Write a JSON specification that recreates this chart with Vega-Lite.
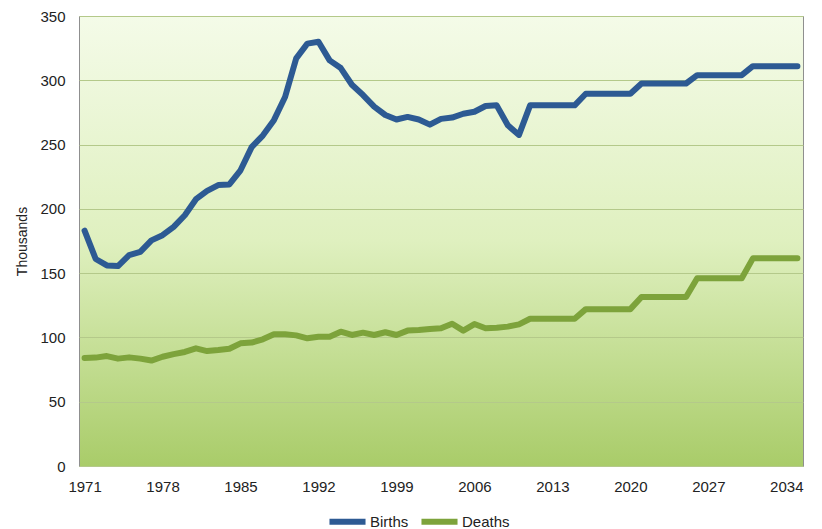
{
  "$schema": "https://vega.github.io/schema/vega-lite/v6.json",
  "width": 724,
  "height": 450,
  "autosize": {"type": "none"},
  "padding": {"left": 79, "top": 16, "right": 19, "bottom": 63},
  "background": "#ffffff",
  "config": {
    "font": "Liberation Sans, sans-serif",
    "view": {
      "stroke": "#8f8f8f",
      "strokeWidth": 1,
      "fill": {
        "gradient": "linear",
        "x1": 0, "y1": 0, "x2": 0, "y2": 1,
        "stops": [
          {"offset": 0, "color": "#f4fbe8"},
          {"offset": 0.5, "color": "#dff0bf"},
          {"offset": 1, "color": "#a9cc69"}
        ]
      }
    }
  },
  "data": {
    "values": [
      {"year": 1971, "series": "Births", "value": 183},
      {"year": 1972, "series": "Births", "value": 161},
      {"year": 1973, "series": "Births", "value": 156},
      {"year": 1974, "series": "Births", "value": 155.5},
      {"year": 1975, "series": "Births", "value": 164},
      {"year": 1976, "series": "Births", "value": 166.5},
      {"year": 1977, "series": "Births", "value": 175.5},
      {"year": 1978, "series": "Births", "value": 179.5},
      {"year": 1979, "series": "Births", "value": 186},
      {"year": 1980, "series": "Births", "value": 195},
      {"year": 1981, "series": "Births", "value": 207.5},
      {"year": 1982, "series": "Births", "value": 214},
      {"year": 1983, "series": "Births", "value": 218.5},
      {"year": 1984, "series": "Births", "value": 219},
      {"year": 1985, "series": "Births", "value": 230},
      {"year": 1986, "series": "Births", "value": 248},
      {"year": 1987, "series": "Births", "value": 257},
      {"year": 1988, "series": "Births", "value": 269},
      {"year": 1989, "series": "Births", "value": 287},
      {"year": 1990, "series": "Births", "value": 317},
      {"year": 1991, "series": "Births", "value": 328.5},
      {"year": 1992, "series": "Births", "value": 330},
      {"year": 1993, "series": "Births", "value": 315.5},
      {"year": 1994, "series": "Births", "value": 309.5},
      {"year": 1995, "series": "Births", "value": 296.5},
      {"year": 1996, "series": "Births", "value": 288.5},
      {"year": 1997, "series": "Births", "value": 279.5},
      {"year": 1998, "series": "Births", "value": 273},
      {"year": 1999, "series": "Births", "value": 269.5},
      {"year": 2000, "series": "Births", "value": 271.5},
      {"year": 2001, "series": "Births", "value": 269.5},
      {"year": 2002, "series": "Births", "value": 265.5},
      {"year": 2003, "series": "Births", "value": 270},
      {"year": 2004, "series": "Births", "value": 271},
      {"year": 2005, "series": "Births", "value": 274},
      {"year": 2006, "series": "Births", "value": 275.5},
      {"year": 2007, "series": "Births", "value": 280},
      {"year": 2008, "series": "Births", "value": 280.5},
      {"year": 2009, "series": "Births", "value": 265},
      {"year": 2010, "series": "Births", "value": 257.5},
      {"year": 2011, "series": "Births", "value": 280.5},
      {"year": 2012, "series": "Births", "value": 280.5},
      {"year": 2013, "series": "Births", "value": 280.5},
      {"year": 2014, "series": "Births", "value": 280.5},
      {"year": 2015, "series": "Births", "value": 280.5},
      {"year": 2016, "series": "Births", "value": 289.5},
      {"year": 2017, "series": "Births", "value": 289.5},
      {"year": 2018, "series": "Births", "value": 289.5},
      {"year": 2019, "series": "Births", "value": 289.5},
      {"year": 2020, "series": "Births", "value": 289.5},
      {"year": 2021, "series": "Births", "value": 297.5},
      {"year": 2022, "series": "Births", "value": 297.5},
      {"year": 2023, "series": "Births", "value": 297.5},
      {"year": 2024, "series": "Births", "value": 297.5},
      {"year": 2025, "series": "Births", "value": 297.5},
      {"year": 2026, "series": "Births", "value": 304},
      {"year": 2027, "series": "Births", "value": 304},
      {"year": 2028, "series": "Births", "value": 304},
      {"year": 2029, "series": "Births", "value": 304},
      {"year": 2030, "series": "Births", "value": 304},
      {"year": 2031, "series": "Births", "value": 311},
      {"year": 2032, "series": "Births", "value": 311},
      {"year": 2033, "series": "Births", "value": 311},
      {"year": 2034, "series": "Births", "value": 311},
      {"year": 2035, "series": "Births", "value": 311},
      {"year": 1971, "series": "Deaths", "value": 84},
      {"year": 1972, "series": "Deaths", "value": 84.3},
      {"year": 1973, "series": "Deaths", "value": 85.5},
      {"year": 1974, "series": "Deaths", "value": 83.5},
      {"year": 1975, "series": "Deaths", "value": 84.5},
      {"year": 1976, "series": "Deaths", "value": 83.5},
      {"year": 1977, "series": "Deaths", "value": 82},
      {"year": 1978, "series": "Deaths", "value": 85},
      {"year": 1979, "series": "Deaths", "value": 87},
      {"year": 1980, "series": "Deaths", "value": 88.7},
      {"year": 1981, "series": "Deaths", "value": 91.5},
      {"year": 1982, "series": "Deaths", "value": 89.4},
      {"year": 1983, "series": "Deaths", "value": 90.2},
      {"year": 1984, "series": "Deaths", "value": 91.2},
      {"year": 1985, "series": "Deaths", "value": 95.4},
      {"year": 1986, "series": "Deaths", "value": 96},
      {"year": 1987, "series": "Deaths", "value": 98.5},
      {"year": 1988, "series": "Deaths", "value": 102.4},
      {"year": 1989, "series": "Deaths", "value": 102.4},
      {"year": 1990, "series": "Deaths", "value": 101.6},
      {"year": 1991, "series": "Deaths", "value": 99.3},
      {"year": 1992, "series": "Deaths", "value": 100.5},
      {"year": 1993, "series": "Deaths", "value": 100.6},
      {"year": 1994, "series": "Deaths", "value": 104.5},
      {"year": 1995, "series": "Deaths", "value": 101.9},
      {"year": 1996, "series": "Deaths", "value": 103.7},
      {"year": 1997, "series": "Deaths", "value": 101.9},
      {"year": 1998, "series": "Deaths", "value": 104},
      {"year": 1999, "series": "Deaths", "value": 101.9},
      {"year": 2000, "series": "Deaths", "value": 105.3},
      {"year": 2001, "series": "Deaths", "value": 105.8},
      {"year": 2002, "series": "Deaths", "value": 106.6},
      {"year": 2003, "series": "Deaths", "value": 107.1},
      {"year": 2004, "series": "Deaths", "value": 110.7},
      {"year": 2005, "series": "Deaths", "value": 105.3},
      {"year": 2006, "series": "Deaths", "value": 110.4},
      {"year": 2007, "series": "Deaths", "value": 107.1},
      {"year": 2008, "series": "Deaths", "value": 107.6},
      {"year": 2009, "series": "Deaths", "value": 108.4},
      {"year": 2010, "series": "Deaths", "value": 110.2},
      {"year": 2011, "series": "Deaths", "value": 114.5},
      {"year": 2012, "series": "Deaths", "value": 114.5},
      {"year": 2013, "series": "Deaths", "value": 114.5},
      {"year": 2014, "series": "Deaths", "value": 114.5},
      {"year": 2015, "series": "Deaths", "value": 114.5},
      {"year": 2016, "series": "Deaths", "value": 122},
      {"year": 2017, "series": "Deaths", "value": 122},
      {"year": 2018, "series": "Deaths", "value": 122},
      {"year": 2019, "series": "Deaths", "value": 122},
      {"year": 2020, "series": "Deaths", "value": 122},
      {"year": 2021, "series": "Deaths", "value": 131.5},
      {"year": 2022, "series": "Deaths", "value": 131.5},
      {"year": 2023, "series": "Deaths", "value": 131.5},
      {"year": 2024, "series": "Deaths", "value": 131.5},
      {"year": 2025, "series": "Deaths", "value": 131.5},
      {"year": 2026, "series": "Deaths", "value": 146},
      {"year": 2027, "series": "Deaths", "value": 146},
      {"year": 2028, "series": "Deaths", "value": 146},
      {"year": 2029, "series": "Deaths", "value": 146},
      {"year": 2030, "series": "Deaths", "value": 146},
      {"year": 2031, "series": "Deaths", "value": 161.5},
      {"year": 2032, "series": "Deaths", "value": 161.5},
      {"year": 2033, "series": "Deaths", "value": 161.5},
      {"year": 2034, "series": "Deaths", "value": 161.5},
      {"year": 2035, "series": "Deaths", "value": 161.5}
    ]
  },
  "mark": {"type": "line", "strokeWidth": 6, "strokeCap": "round", "strokeJoin": "round"},
  "encoding": {
    "x": {
      "field": "year",
      "type": "quantitative",
      "scale": {"domain": [1970.5, 2035.5], "nice": false, "zero": false},
      "axis": {
        "title": null,
        "values": [1971, 1978, 1985, 1992, 1999, 2006, 2013, 2020, 2027, 2034],
        "format": "d",
        "grid": false,
        "ticks": false,
        "domain": false,
        "labelFontSize": 15,
        "labelColor": "#222222",
        "labelPadding": 13
      }
    },
    "y": {
      "field": "value",
      "type": "quantitative",
      "scale": {"domain": [0, 350], "nice": false},
      "axis": {
        "title": "Thousands",
        "titleFontSize": 14,
        "titleFontWeight": "normal",
        "titleColor": "#222222",
        "titlePadding": 10,
        "values": [0, 50, 100, 150, 200, 250, 300, 350],
        "grid": true,
        "gridColor": "#b4c98a",
        "gridWidth": 1.2,
        "ticks": false,
        "domain": false,
        "labelFontSize": 15,
        "labelColor": "#222222",
        "labelPadding": 14
      }
    },
    "color": {
      "field": "series",
      "type": "nominal",
      "scale": {"domain": ["Births", "Deaths"], "range": ["#2d5a93", "#7da33b"]},
      "legend": {
        "title": null,
        "orient": "none",
        "legendX": 247,
        "legendY": 484,
        "padding": 0,
        "direction": "horizontal",
        "symbolType": "stroke",
        "symbolStrokeWidth": 6,
        "symbolSize": 1300,
        "labelFontSize": 15,
        "labelColor": "#222222",
        "labelOffset": 1,
        "columnPadding": 0
      }
    }
  }
}
